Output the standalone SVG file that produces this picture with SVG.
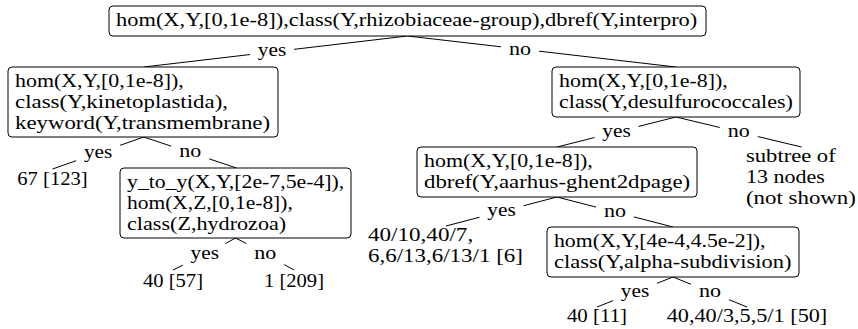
<svg xmlns="http://www.w3.org/2000/svg" width="858" height="329" viewBox="0 0 858 329" font-family="Liberation Serif, serif">
<style>
.box{fill:#fff;stroke:#000;stroke-width:1}
.t{font-family:'Liberation Serif','Times New Roman',serif;font-size:19.5px;fill:#000}
.m{text-anchor:middle}
.e{stroke:#000;stroke-width:1;fill:none}
</style>
<rect width="858" height="329" fill="#fff"/>
<g id="connectors">
<path class="e" d="M407.5,36 L294,49.34 M250,54.52 L143.8,67"/>
<path class="e" d="M407.5,36 L501,46.8 M539,51.18 L676,67"/>
<path class="e" d="M143.8,137 L120.15,145.29 M76.15,160.71 L52.5,169"/>
<path class="e" d="M143.8,137 L171.15,146.15 M209.15,158.85 L236.5,168"/>
<path class="e" d="M235.5,238 L225.6,243.5 M182.9,265.1 L173,270"/>
<path class="e" d="M235.5,238 L246.4,243.5 M284.25,264.57 L294,270"/>
<path class="e" d="M676,117 L638.5,126.45 M594.5,137.55 L557,147"/>
<path class="e" d="M676,117 L719.75,127.46 M757.75,136.54 L801.5,147"/>
<path class="e" d="M557,197 L523.5,205.75 M479.5,217.25 L446,226"/>
<path class="e" d="M557,197 L596,207.09 M634,216.91 L673,227"/>
<path class="e" d="M673,277 L657,283.32 M613,300.68 L597,307"/>
<path class="e" d="M673,277 L691,284.3 M729,299.7 L747,307"/>
<text class="t m" x="272" y="56" textLength="28.4" lengthAdjust="spacingAndGlyphs">yes</text>
<text class="t m" x="520" y="55" textLength="22" lengthAdjust="spacingAndGlyphs">no</text>
<text class="t m" x="98.15" y="157.5" textLength="28.4" lengthAdjust="spacingAndGlyphs">yes</text>
<text class="t m" x="190.15" y="157" textLength="22" lengthAdjust="spacingAndGlyphs">no</text>
<text class="t m" x="204.75" y="258.5" textLength="28.4" lengthAdjust="spacingAndGlyphs">yes</text>
<text class="t m" x="265.25" y="258.5" textLength="22" lengthAdjust="spacingAndGlyphs">no</text>
<text class="t m" x="616.5" y="136.5" textLength="28.4" lengthAdjust="spacingAndGlyphs">yes</text>
<text class="t m" x="738.75" y="136.5" textLength="22" lengthAdjust="spacingAndGlyphs">no</text>
<text class="t m" x="501.5" y="216" textLength="28.4" lengthAdjust="spacingAndGlyphs">yes</text>
<text class="t m" x="615" y="216.5" textLength="22" lengthAdjust="spacingAndGlyphs">no</text>
<text class="t m" x="635" y="296.5" textLength="28.4" lengthAdjust="spacingAndGlyphs">yes</text>
<text class="t m" x="710" y="296.5" textLength="22" lengthAdjust="spacingAndGlyphs">no</text>
</g>
<g id="root">
<rect class="box" x="109" y="6" width="597" height="30" rx="4"/>
<text class="t" x="116" y="26" textLength="581.3" lengthAdjust="spacingAndGlyphs">hom(X,Y,[0,1e-8]),class(Y,rhizobiaceae-group),dbref(Y,interpro)</text>
</g>
<g id="n_kinetoplastida">
<rect class="box" x="8" y="67" width="270" height="70" rx="4"/>
<text class="t" x="15" y="86.5" textLength="168.7" lengthAdjust="spacingAndGlyphs">hom(X,Y,[0,1e-8]),</text>
<text class="t" x="15" y="107.5" textLength="213" lengthAdjust="spacingAndGlyphs">class(Y,kinetoplastida),</text>
<text class="t" x="15" y="128.5" textLength="255.1" lengthAdjust="spacingAndGlyphs">keyword(Y,transmembrane)</text>
</g>
<g id="n_desulfurococcales">
<rect class="box" x="552" y="67" width="248" height="50" rx="4"/>
<text class="t" x="559" y="86.5" textLength="168.7" lengthAdjust="spacingAndGlyphs">hom(X,Y,[0,1e-8]),</text>
<text class="t" x="559" y="107.5" textLength="233.9" lengthAdjust="spacingAndGlyphs">class(Y,desulfurococcales)</text>
</g>
<g id="leaf_67">
<text class="t m" x="52.5" y="184.5" textLength="70.5" lengthAdjust="spacingAndGlyphs">67 [123]</text>
</g>
<g id="n_hydrozoa">
<rect class="box" x="120" y="168" width="231" height="70" rx="4"/>
<text class="t" x="127" y="187.5" textLength="217.3" lengthAdjust="spacingAndGlyphs">y_to_y(X,Y,[2e-7,5e-4]),</text>
<text class="t" x="127" y="208.5" textLength="165.8" lengthAdjust="spacingAndGlyphs">hom(X,Z,[0,1e-8]),</text>
<text class="t" x="127" y="229.5" textLength="159.2" lengthAdjust="spacingAndGlyphs">class(Z,hydrozoa)</text>
</g>
<g id="leaf_40_57">
<text class="t m" x="173" y="287" textLength="60.1" lengthAdjust="spacingAndGlyphs">40 [57]</text>
</g>
<g id="leaf_1_209">
<text class="t m" x="294" y="287" textLength="60.1" lengthAdjust="spacingAndGlyphs">1 [209]</text>
</g>
<g id="n_aarhus">
<rect class="box" x="417" y="147" width="280" height="50" rx="4"/>
<text class="t" x="424" y="166.5" textLength="168.7" lengthAdjust="spacingAndGlyphs">hom(X,Y,[0,1e-8]),</text>
<text class="t" x="424" y="187.5" textLength="266.1" lengthAdjust="spacingAndGlyphs">dbref(Y,aarhus-ghent2dpage)</text>
</g>
<g id="leaf_subtree">
<text class="t" x="746" y="162" textLength="89.7" lengthAdjust="spacingAndGlyphs">subtree of</text>
<text class="t" x="746" y="183" textLength="78.7" lengthAdjust="spacingAndGlyphs">13 nodes</text>
<text class="t" x="746" y="204" textLength="109.9" lengthAdjust="spacingAndGlyphs">(not shown)</text>
</g>
<g id="leaf_40_10">
<text class="t" x="368" y="241" textLength="105.2" lengthAdjust="spacingAndGlyphs">40/10,40/7,</text>
<text class="t" x="368" y="262" textLength="154.9" lengthAdjust="spacingAndGlyphs">6,6/13,6/13/1 [6]</text>
</g>
<g id="n_alpha">
<rect class="box" x="547" y="227" width="252" height="50" rx="4"/>
<text class="t" x="554" y="246.5" textLength="211.5" lengthAdjust="spacingAndGlyphs">hom(X,Y,[4e-4,4.5e-2]),</text>
<text class="t" x="554" y="267.5" textLength="237.4" lengthAdjust="spacingAndGlyphs">class(Y,alpha-subdivision)</text>
</g>
<g id="leaf_40_11">
<text class="t m" x="597" y="322" textLength="60.1" lengthAdjust="spacingAndGlyphs">40 [11]</text>
</g>
<g id="leaf_40_40">
<text class="t m" x="747" y="322" textLength="160.6" lengthAdjust="spacingAndGlyphs">40,40/3,5,5/1 [50]</text>
</g>
</svg>
